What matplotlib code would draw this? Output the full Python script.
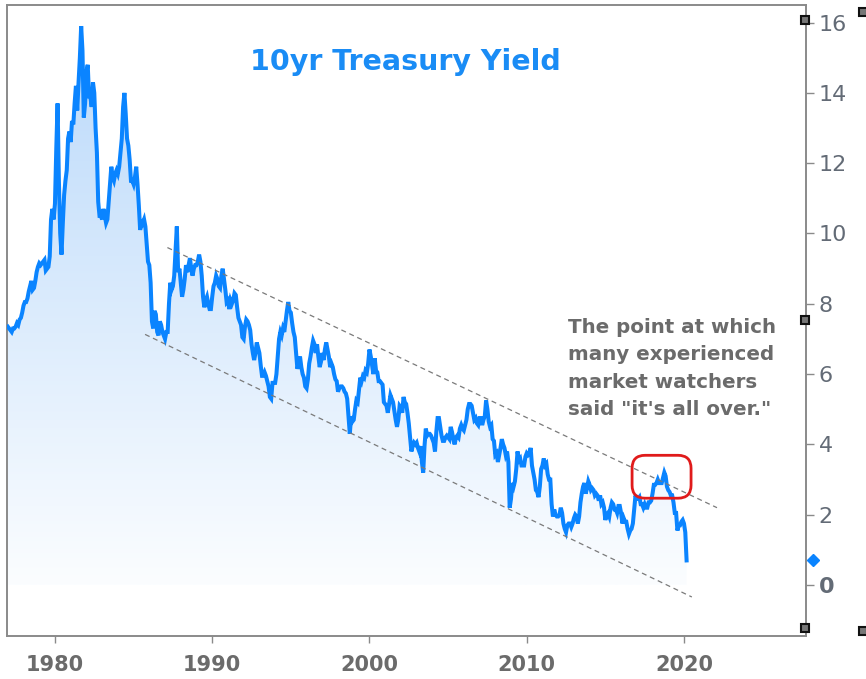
import numpy as np
import matplotlib
matplotlib.use("Agg")
import matplotlib.pyplot as plt  # noqa: E402
from matplotlib.colors import LinearSegmentedColormap  # noqa: E402
from matplotlib.patches import FancyBboxPatch  # noqa: E402
from matplotlib.transforms import IdentityTransform, blended_transform_factory  # noqa: E402

# Monthly 10yr Treasury yield (%), Jan 1977 onward.
START_YEAR = 1977
YIELDS = [
    7.35, 7.30, 7.25, 7.20, 7.30, 7.30, 7.35, 7.45, 7.40, 7.55, 7.60, 7.75,  # 1977
    7.95, 8.05, 8.05, 8.15, 8.35, 8.50, 8.65, 8.40, 8.45, 8.65, 8.90, 9.05,  # 1978
    9.15, 9.10, 9.15, 9.20, 9.25, 8.95, 9.00, 9.05, 9.35, 10.40, 10.70, 10.40,  # 1979
    10.85, 12.40, 13.70, 11.50, 10.00, 9.40, 10.30, 11.10, 11.50, 11.80, 12.70, 12.90,  # 1980
    12.60, 13.20, 13.10, 13.70, 14.20, 13.50, 14.30, 15.00, 15.90, 15.20, 13.30, 13.70,  # 1981
    14.60, 14.80, 13.90, 13.90, 13.60, 14.30, 14.00, 13.00, 12.30, 10.90, 10.50, 10.50,  # 1982
    10.40, 10.70, 10.50, 10.30, 10.40, 10.90, 11.40, 11.90, 11.60, 11.50, 11.70, 11.80,  # 1983
    11.70, 11.90, 12.30, 12.70, 13.60, 14.00, 13.40, 12.70, 12.50, 12.10, 11.50, 11.50,  # 1984
    11.40, 11.60, 11.90, 11.40, 10.80, 10.10, 10.40, 10.30, 10.40, 10.20, 9.70, 9.20,  # 1985
    9.10, 8.60, 7.50, 7.30, 7.80, 7.70, 7.20, 7.10, 7.50, 7.40, 7.20, 7.10,  # 1986
    7.00, 7.20, 7.20, 8.00, 8.60, 8.40, 8.50, 8.80, 9.50, 10.20, 8.90, 9.00,  # 1987
    8.60, 8.20, 8.40, 8.70, 9.10, 8.90, 9.10, 9.30, 9.00, 8.80, 9.00, 9.10,  # 1988
    9.10, 9.20, 9.40, 9.20, 8.80, 8.20, 7.90, 8.10, 8.20, 8.00, 7.85, 7.85,  # 1989
    8.20, 8.50, 8.60, 8.80, 8.70, 8.50, 8.45, 8.80, 9.00, 8.70, 8.40, 8.05,  # 1990
    8.10, 7.85, 8.10, 8.00, 8.10, 8.30, 8.25, 7.90, 7.60, 7.50, 7.40, 7.05,  # 1991
    7.00, 7.35, 7.55, 7.50, 7.40, 7.25, 6.85, 6.60, 6.40, 6.60, 6.90, 6.75,  # 1992
    6.60, 6.25, 5.95, 5.95, 6.05, 5.95, 5.80, 5.65, 5.35, 5.30, 5.75, 5.75,  # 1993
    5.75, 6.00, 6.50, 7.00, 7.20, 7.10, 7.30, 7.20, 7.50, 7.80, 8.05, 7.80,  # 1994
    7.75, 7.45, 7.20, 7.05, 6.60, 6.15, 6.30, 6.50, 6.20, 6.00, 5.90, 5.65,  # 1995
    5.60, 5.85, 6.30, 6.50, 6.75, 6.95, 6.85, 6.60, 6.85, 6.50, 6.20, 6.35,  # 1996
    6.60, 6.40, 6.70, 6.90, 6.70, 6.50, 6.20, 6.30, 6.20, 6.00, 5.85, 5.80,  # 1997
    5.50, 5.60, 5.65, 5.65, 5.60, 5.50, 5.45, 5.30, 4.80, 4.30, 4.80, 4.65,  # 1998
    4.70, 5.00, 5.25, 5.20, 5.55, 5.90, 5.80, 5.95, 5.90, 6.10, 6.05, 6.30,  # 1999
    6.70, 6.50, 6.25, 6.00, 6.45, 6.10, 6.05, 5.80, 5.80, 5.75, 5.70, 5.20,  # 2000
    5.15, 5.10, 4.90, 5.15, 5.40, 5.30, 5.20, 4.95, 4.70, 4.50, 4.70, 5.10,  # 2001
    5.05, 4.90, 5.35, 5.20, 5.15, 4.90, 4.60, 4.20, 3.80, 3.95, 4.05, 4.00,  # 2002
    4.05, 3.90, 3.80, 3.95, 3.50, 3.20, 3.95, 4.45, 4.25, 4.30, 4.30, 4.25,  # 2003
    4.15, 4.05, 3.80, 4.35, 4.75, 4.75, 4.50, 4.25, 4.10, 4.10, 4.20, 4.25,  # 2004
    4.20, 4.15, 4.50, 4.35, 4.15, 4.00, 4.20, 4.25, 4.20, 4.45, 4.55, 4.45,  # 2005
    4.40, 4.55, 4.70, 5.00, 5.15, 5.15, 5.10, 4.90, 4.70, 4.75, 4.60, 4.55,  # 2006
    4.75, 4.75, 4.55, 4.70, 4.80, 5.25, 5.00, 4.65, 4.50, 4.55, 4.15, 4.10,  # 2007
    3.70, 3.75, 3.50, 3.70, 3.90, 4.15, 4.00, 3.90, 3.70, 3.80, 3.50, 2.20,  # 2008
    2.45, 2.90, 2.80, 2.95, 3.30, 3.80, 3.55, 3.60, 3.40, 3.40, 3.40, 3.65,  # 2009
    3.75, 3.70, 3.75, 3.90, 3.40, 3.20, 3.00, 2.70, 2.65, 2.50, 2.80, 3.30,  # 2010
    3.40, 3.60, 3.40, 3.45, 3.15, 3.00, 3.00, 2.30, 1.95, 2.15, 2.00, 1.95,  # 2011
    1.95, 2.00, 2.20, 2.05, 1.75, 1.60, 1.50, 1.70, 1.75, 1.75, 1.65, 1.75,  # 2012
    1.90, 2.00, 1.95, 1.75, 1.95, 2.35, 2.60, 2.80, 2.90, 2.60, 2.75, 2.95,  # 2013
    2.85, 2.70, 2.75, 2.70, 2.55, 2.60, 2.55, 2.40, 2.55, 2.30, 2.35, 2.20,  # 2014
    1.85, 2.00, 2.05, 1.95, 2.20, 2.35, 2.30, 2.15, 2.15, 2.05, 2.25, 2.25,  # 2015
    2.05, 1.75, 1.90, 1.80, 1.80, 1.60, 1.45, 1.55, 1.60, 1.75, 2.15, 2.55,  # 2016
    2.45, 2.45, 2.50, 2.30, 2.30, 2.20, 2.30, 2.20, 2.20, 2.35, 2.35, 2.40,  # 2017
    2.60, 2.85, 2.85, 2.90, 3.00, 2.90, 2.90, 2.90, 3.05, 3.20, 3.10, 2.80,  # 2018
    2.70, 2.65, 2.55, 2.55, 2.35, 2.05, 2.05, 1.55, 1.70, 1.70, 1.80, 1.85,  # 2019
    1.75, 1.50, 0.70,  # 2020
]

# Downward channel (year, yield) end points
UPPER_CHANNEL = ([1987.15, 2022.1], [9.6, 2.2])
LOWER_CHANNEL = ([1985.73, 2020.5], [7.13, -0.34])
# Highlight box round the 2018 peak (years, yields)
BOX_X = (2016.7, 2020.45)
BOX_Y = (2.47, 3.69)

X_TICKS = [1980, 1990, 2000, 2010, 2020]
Y_TICKS = [0, 2, 4, 6, 8, 10, 12, 14, 16]

TITLE = "10yr Treasury Yield"
NOTE = 'The point at which\nmany experienced\nmarket watchers\nsaid "it\'s all over."'

LINE_BLUE = "#0a84ff"
TITLE_BLUE = "#1a8cf5"
GREY_TEXT = "#6b6b6b"
AXIS_GREY = "#8a8a8a"

years = START_YEAR + np.arange(len(YIELDS)) / 12.0
values = np.array(YIELDS)

fig = plt.figure(figsize=(8.66, 6.79), dpi=100)
ax = fig.add_axes([7 / 866, 1 - 636 / 679, 799 / 866, 631 / 679])

# gradient fill under the line, clipped to the area below the curve
fill = ax.fill_between(years, values, 0, facecolor="none", edgecolor="none")
cmap = LinearSegmentedColormap.from_list("fade", ["#fbfdff", "#b8d8fa"])
grad = np.linspace(0, 1, 256).reshape(-1, 1)
im = ax.imshow(grad, cmap=cmap, origin="lower", aspect="auto",
               extent=[years[0], years[-1], 0, 16.5], zorder=1)
im.set_clip_path(fill.get_paths()[0], transform=ax.transData)
ax.set_xlim(1976.95, 2027.76)
ax.set_ylim(-1.45, 16.5)

ax.plot(years, values, color=LINE_BLUE, lw=2.9, zorder=3, solid_joinstyle="miter")

for xs, ys in (UPPER_CHANNEL, LOWER_CHANNEL):
    ax.plot(xs, ys, color="#7a7a7a", lw=0.9, ls=(0, (4, 3)), zorder=4)

# axes styling
for s in ax.spines.values():
    s.set_color(AXIS_GREY)
    s.set_linewidth(1.4)
ax.yaxis.tick_right()
ax.set_yticks(Y_TICKS)
ax.set_xticks(X_TICKS)
ax.tick_params(axis="y", direction="out", length=6, width=1, color=AXIS_GREY,
               labelsize=16, labelcolor="#636b76", pad=3)
ax.tick_params(axis="x", direction="out", length=5, width=1, color=AXIS_GREY,
               labelsize=15, labelcolor=GREY_TEXT, pad=9)
for lab in ax.get_xticklabels():
    lab.set_family(["Liberation Sans Narrow", "DejaVu Sans"])
    lab.set_fontweight("bold")
for lab in ax.get_yticklabels():
    if lab.get_text() == "0":
        lab.set_fontweight("bold")

# last value marker on the right axis
edge = blended_transform_factory(ax.transAxes, ax.transData)
ax.plot([1.009], [values[-1]], marker="D", ms=6, color=LINE_BLUE,
        transform=edge, clip_on=False, zorder=5)

# rounded highlight box
fig.canvas.draw()
(x0, y0), (x1, y1) = ax.transData.transform([(BOX_X[0], BOX_Y[0]), (BOX_X[1], BOX_Y[1])])
box = FancyBboxPatch((x0, y0), x1 - x0, y1 - y0,
                     boxstyle="round,pad=0,rounding_size=13",
                     transform=IdentityTransform(), fill=False,
                     edgecolor="#e01b1b", lw=2, zorder=6)
fig.patches.append(box)

# small selection handles from the original chart tool
for hx, hy in [(805, 20), (805, 320), (805, 628), (863, 12), (863, 631)]:
    fig.add_artist(plt.Line2D([hx / 866], [1 - hy / 679], marker="s", ms=6,
                              mfc="#777777", mec="#111111", mew=1.5,
                              transform=fig.transFigure))

fig.text(405 / 866, 1 - 62 / 679, TITLE, ha="center", va="center",
         fontsize=20.5, fontweight="bold", color=TITLE_BLUE)
fig.text(568 / 866, 1 - 318 / 679, NOTE, ha="left", va="top", fontsize=14.3,
         fontweight="bold", color=GREY_TEXT, linespacing=1.55)

fig.savefig("out.png", dpi=100)
